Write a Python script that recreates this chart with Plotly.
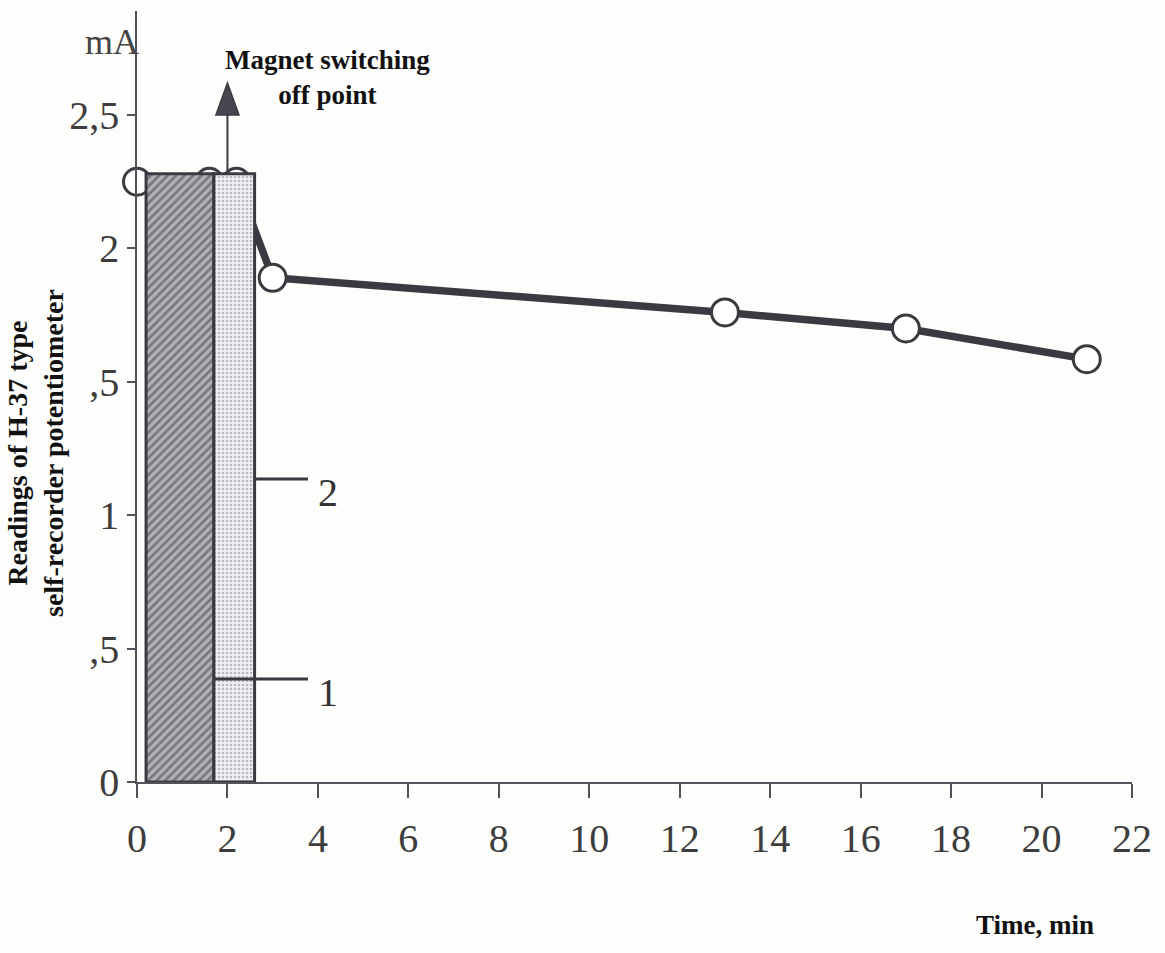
import plotly.graph_objects as go

# Potentiometer readings versus time
time_min = [0, 1.6, 2.2, 3, 13, 17, 21]
reading_mA = [2.25, 2.25, 2.25, 1.89, 1.76, 1.70, 1.585]

# Magnetisation stages drawn as blocks (1 = hatched, 2 = dotted)
stage_start = [0.2, 1.7]
stage_end = [1.7, 2.6]
stage_level = [2.28, 2.28]
stage_names = ["1", "2"]

# Axis ticks
x_ticks = list(range(0, 23, 2))
y_ticks = [0, 0.5, 1, 1.5, 2, 2.5]
y_tick_text = ["0", ",5", "1", ",5", "2", "2,5"]

switch_off_time = 2.0

# ---- styling / layout -------------------------------------------------
W, H = 1165, 953
L, R, T, B = 137, 1132, 11, 782
X_RANGE = [0, 22]
Y_RANGE = [0, 2.89]
INK = "#3c3941"
AXIS = "#55515a"
SERIF = "Liberation Serif, Times New Roman, serif"


def px_to_paper(px, py):
    return (px - L) / (R - L), (B - py) / (B - T)


def label(px, py, text, size, color="#111", angle=0):
    x, y = px_to_paper(px, py)
    return dict(x=x, y=y, xref="paper", yref="paper", text=text,
                showarrow=False, xanchor="center", yanchor="middle",
                align="center", textangle=angle,
                font=dict(family=SERIF, size=size, color=color))


fig = go.Figure()

fig.add_trace(go.Scatter(
    x=time_min, y=reading_mA, mode="lines+markers",
    line=dict(color=INK, width=7.5),
    marker=dict(symbol="circle", size=27, color="white",
                line=dict(color=INK, width=3)),
    cliponaxis=False, hoverinfo="skip", showlegend=False,
))

patterns = [
    dict(shape="/", fgcolor="#403c46", bgcolor="#b3b1b8", size=6, solidity=0.45),
    dict(shape=".", fgcolor="#85828b", bgcolor="#efeef1", size=4, solidity=0.35),
]
for s0, s1, lvl, pat in zip(stage_start, stage_end, stage_level, patterns):
    fig.add_trace(go.Bar(
        x=[(s0 + s1) / 2], y=[lvl], width=[s1 - s0],
        marker=dict(color=pat["bgcolor"], pattern=pat,
                    line=dict(color=INK, width=3)),
        xaxis="x2", yaxis="y2", hoverinfo="skip", showlegend=False,
    ))

shapes = []
# switching-off arrow
arrow_base = 2.50
arrow_tip = 2.62
half_w = 0.255
shapes.append(dict(type="line", xref="x", yref="y",
                   x0=switch_off_time, x1=switch_off_time,
                   y0=stage_level[0], y1=arrow_base + 0.01,
                   line=dict(color=INK, width=2)))
shapes.append(dict(type="path", xref="x", yref="y",
                   path=f"M {switch_off_time - half_w},{arrow_base} "
                        f"L {switch_off_time + half_w},{arrow_base} "
                        f"L {switch_off_time},{arrow_tip} Z",
                   fillcolor="#4a4650", line=dict(color=INK, width=1.5)))

# leader lines to stage labels
leader_y = [0.386, 1.136]
leader_end = 3.78
annotations = []
for name, x_start, ly in zip(stage_names, stage_end, leader_y):
    shapes.append(dict(type="line", xref="x", yref="y",
                       x0=x_start, x1=leader_end, y0=ly, y1=ly,
                       line=dict(color=INK, width=3)))
    annotations.append(dict(x=leader_end + 0.45, y=ly - 0.05, xref="x", yref="y",
                            text=name, showarrow=False,
                            xanchor="center", yanchor="middle",
                            font=dict(family=SERIF, size=40, color="#333")))

annotations.append(label(112, 42, "mA", 36, "#444"))
annotations.append(label(327, 77, "<b>Magnet switching<br>off point</b>", 27))
annotations.append(label(1035, 925, "<b>Time, min</b>", 27))
annotations.append(label(36, 453,
                         "<b>Readings of H-37 type<br>self-recorder potentiometer</b>",
                         28, angle=-90))

fig.update_layout(
    width=W, height=H,
    margin=dict(l=L, r=W - R, t=T, b=H - B),
    paper_bgcolor="#fdfdfc", plot_bgcolor="rgba(0,0,0,0)",
    barmode="overlay", showlegend=False,
    shapes=shapes, annotations=annotations,
    xaxis=dict(range=X_RANGE, tickvals=x_ticks, ticks="outside", ticklen=14,
               tickwidth=1.5, tickcolor=AXIS, showline=True, linecolor=AXIS,
               linewidth=2, showgrid=False, zeroline=False,
               ticklabelstandoff=6,
               tickfont=dict(family=SERIF, size=40, color="#3d3d3d")),
    yaxis=dict(range=Y_RANGE, tickvals=y_ticks, ticktext=y_tick_text,
               ticks="outside", ticklen=8, tickwidth=1.5, tickcolor=AXIS,
               showline=True, linecolor=AXIS, linewidth=1.5,
               showgrid=False, zeroline=False, ticklabelstandoff=0,
               tickfont=dict(family=SERIF, size=40, color="#3d3d3d")),
    xaxis2=dict(range=X_RANGE, overlaying="x", visible=False, anchor="y2"),
    yaxis2=dict(range=Y_RANGE, overlaying="y", visible=False, anchor="x2"),
)

fig.write_html("out.html")
